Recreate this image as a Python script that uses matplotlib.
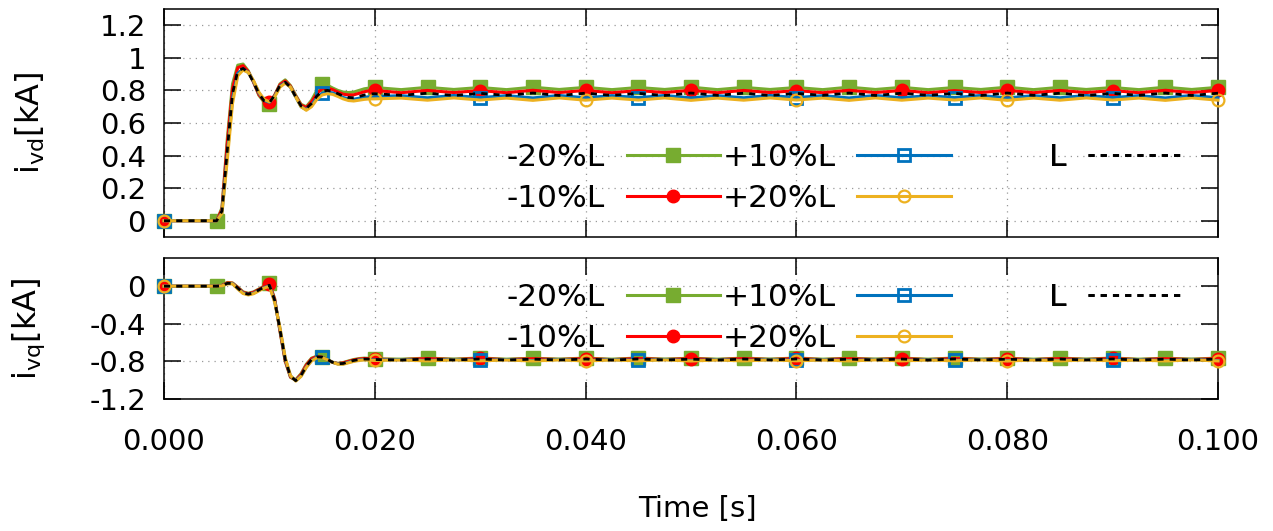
import numpy as np
import matplotlib
matplotlib.use("Agg")
import matplotlib.pyplot as plt

plt.rcParams['font.family'] = ['DejaVu Sans']
plt.rcParams['mathtext.fontset'] = 'dejavusans'

# ---------------- data ----------------
# sample times [s]: 0, then 0.005..0.020 every 0.5 ms, then 0.0225..0.100 every 2.5 ms
TIME = np.round(np.concatenate([[0.0],
                                np.arange(0.005, 0.02001, 0.0005),
                                np.arange(0.0225, 0.10001, 0.0025)]), 5)

LABELS = ['-20%L', '-10%L', '+10%L', '+20%L', 'L']

# i_vd [kA]  (transient part 0 .. 0.020 s, 32 samples)
vd_m20_tr = [0, 0, 0.08, 0.50, 0.84, 0.955, 0.962, 0.92, 0.85, 0.77, 0.728, 0.718, 0.77, 0.84, 0.865,
             0.83, 0.77, 0.715, 0.70, 0.74, 0.80, 0.838, 0.832, 0.815, 0.80, 0.79, 0.787, 0.79, 0.80,
             0.81, 0.815, 0.818]
vd_m10_tr = [0, 0, 0.07, 0.47, 0.81, 0.94, 0.952, 0.915, 0.85, 0.775, 0.735, 0.728, 0.77, 0.835, 0.858,
             0.825, 0.765, 0.71, 0.695, 0.73, 0.78, 0.81, 0.815, 0.805, 0.79, 0.777, 0.772, 0.773, 0.782,
             0.792, 0.798, 0.80]
vd_p10_tr = [0, 0, 0.05, 0.40, 0.75, 0.905, 0.932, 0.91, 0.855, 0.785, 0.74, 0.727, 0.765, 0.825, 0.848,
             0.82, 0.76, 0.70, 0.682, 0.71, 0.755, 0.782, 0.79, 0.785, 0.772, 0.757, 0.748, 0.746, 0.752,
             0.758, 0.762, 0.762]
vd_p20_tr = [0, 0, 0.045, 0.37, 0.72, 0.89, 0.925, 0.91, 0.86, 0.79, 0.745, 0.73, 0.76, 0.82, 0.845,
             0.82, 0.76, 0.70, 0.678, 0.70, 0.745, 0.772, 0.78, 0.776, 0.763, 0.748, 0.738, 0.735, 0.74,
             0.745, 0.748, 0.748]
vd_L_tr = [0, 0, 0.06, 0.43, 0.78, 0.92, 0.935, 0.91, 0.85, 0.78, 0.735, 0.725, 0.77, 0.83, 0.85,
           0.82, 0.76, 0.705, 0.69, 0.72, 0.765, 0.795, 0.80, 0.795, 0.78, 0.765, 0.757, 0.755, 0.763,
           0.772, 0.778, 0.78]

# i_vd [kA]  (steady part 0.0225 .. 0.100 s, 32 samples)
vd_m20_ss = [0.805, 0.819, 0.806, 0.818, 0.805, 0.820, 0.806, 0.819, 0.805, 0.818, 0.806, 0.820, 0.805,
             0.819, 0.806, 0.818, 0.805, 0.820, 0.806, 0.819, 0.805, 0.818, 0.806, 0.820, 0.805, 0.819,
             0.806, 0.818, 0.805, 0.820, 0.806, 0.819]
vd_m10_ss = [0.786, 0.800, 0.787, 0.799, 0.786, 0.801, 0.787, 0.800, 0.786, 0.799, 0.787, 0.801, 0.786,
             0.800, 0.787, 0.799, 0.786, 0.801, 0.787, 0.800, 0.786, 0.799, 0.787, 0.801, 0.786, 0.800,
             0.787, 0.799, 0.786, 0.801, 0.787, 0.800]
vd_p10_ss = [0.768, 0.755, 0.769, 0.756, 0.768, 0.754, 0.769, 0.755, 0.768, 0.756, 0.769, 0.754, 0.768,
             0.755, 0.769, 0.756, 0.768, 0.754, 0.769, 0.755, 0.768, 0.756, 0.769, 0.754, 0.768, 0.755,
             0.769, 0.756, 0.768, 0.754, 0.769, 0.755]
vd_p20_ss = [0.753, 0.740, 0.754, 0.741, 0.753, 0.739, 0.754, 0.740, 0.753, 0.741, 0.754, 0.739, 0.753,
             0.740, 0.754, 0.741, 0.753, 0.739, 0.754, 0.740, 0.753, 0.741, 0.754, 0.739, 0.753, 0.740,
             0.754, 0.741, 0.753, 0.739, 0.754, 0.740]
vd_L_ss = [0.770, 0.783, 0.769, 0.782, 0.770, 0.784, 0.769, 0.783, 0.770, 0.782, 0.769, 0.784, 0.770,
           0.783, 0.769, 0.782, 0.770, 0.784, 0.769, 0.783, 0.770, 0.782, 0.769, 0.784, 0.770, 0.783,
           0.769, 0.782, 0.770, 0.784, 0.769, 0.783]

# i_vq [kA]  (transient part 0 .. 0.020 s)
vq_m20_tr = [0, 0, 0.01, 0.04, 0.035, -0.01, -0.06, -0.075, -0.06, -0.03, 0.0, 0.03, -0.13, -0.48,
             -0.80, -0.97, -0.995, -0.93, -0.83, -0.765, -0.745, -0.755, -0.785, -0.81, -0.82, -0.812,
             -0.795, -0.78, -0.77, -0.765, -0.768, -0.772]
vq_m10_tr = [0, 0, 0.008, 0.035, 0.032, -0.015, -0.065, -0.08, -0.065, -0.035, -0.005, 0.02, -0.14,
             -0.47, -0.79, -0.965, -1.0, -0.94, -0.84, -0.772, -0.748, -0.755, -0.782, -0.81, -0.823,
             -0.816, -0.80, -0.785, -0.775, -0.77, -0.772, -0.776]
vq_p10_tr = [0, 0, 0.004, 0.028, 0.028, -0.025, -0.072, -0.088, -0.075, -0.045, -0.015, 0.005, -0.16,
             -0.45, -0.77, -0.955, -1.005, -0.955, -0.86, -0.79, -0.757, -0.757, -0.78, -0.81, -0.827,
             -0.826, -0.81, -0.795, -0.785, -0.78, -0.782, -0.785]
vq_p20_tr = [0, 0, 0.003, 0.025, 0.025, -0.03, -0.078, -0.093, -0.08, -0.05, -0.02, 0.0, -0.17, -0.44,
             -0.76, -0.95, -1.01, -0.96, -0.865, -0.795, -0.762, -0.76, -0.782, -0.81, -0.83, -0.83,
             -0.815, -0.80, -0.79, -0.785, -0.787, -0.79]
vq_L_tr = [0, 0, 0.005, 0.03, 0.03, -0.02, -0.07, -0.085, -0.07, -0.04, -0.01, 0.01, -0.15, -0.46,
           -0.78, -0.96, -1.005, -0.95, -0.85, -0.78, -0.752, -0.755, -0.78, -0.81, -0.825, -0.822,
           -0.805, -0.79, -0.78, -0.775, -0.776, -0.78]

# i_vq [kA]  (steady part 0.0225 .. 0.100 s)
vq_m20_ss = [-0.776, -0.765, -0.775, -0.764, -0.776, -0.766, -0.775, -0.765, -0.776, -0.764, -0.775,
             -0.766, -0.776, -0.765, -0.775, -0.764, -0.776, -0.766, -0.775, -0.765, -0.776, -0.764,
             -0.775, -0.766, -0.776, -0.765, -0.775, -0.764, -0.776, -0.766, -0.775, -0.765]
vq_m10_ss = [-0.781, -0.770, -0.780, -0.769, -0.781, -0.771, -0.780, -0.770, -0.781, -0.769, -0.780,
             -0.771, -0.781, -0.770, -0.780, -0.769, -0.781, -0.771, -0.780, -0.770, -0.781, -0.769,
             -0.780, -0.771, -0.781, -0.770, -0.780, -0.769, -0.781, -0.771, -0.780, -0.770]
vq_p10_ss = [-0.780, -0.791, -0.779, -0.790, -0.780, -0.792, -0.779, -0.791, -0.780, -0.790, -0.779,
             -0.792, -0.780, -0.791, -0.779, -0.790, -0.780, -0.792, -0.779, -0.791, -0.780, -0.790,
             -0.779, -0.792, -0.780, -0.791, -0.779, -0.790, -0.780, -0.792, -0.779, -0.791]
vq_p20_ss = [-0.785, -0.795, -0.784, -0.794, -0.785, -0.796, -0.784, -0.795, -0.785, -0.794, -0.784,
             -0.796, -0.785, -0.795, -0.784, -0.794, -0.785, -0.796, -0.784, -0.795, -0.785, -0.794,
             -0.784, -0.796, -0.785, -0.795, -0.784, -0.794, -0.785, -0.796, -0.784, -0.795]
vq_L_ss = [-0.786, -0.775, -0.785, -0.774, -0.786, -0.776, -0.785, -0.775, -0.786, -0.774, -0.785,
           -0.776, -0.786, -0.775, -0.785, -0.774, -0.786, -0.776, -0.785, -0.775, -0.786, -0.774,
           -0.785, -0.776, -0.786, -0.775, -0.785, -0.774, -0.786, -0.776, -0.785, -0.775]

VD = [vd_m20_tr + vd_m20_ss, vd_m10_tr + vd_m10_ss, vd_p10_tr + vd_p10_ss,
      vd_p20_tr + vd_p20_ss, vd_L_tr + vd_L_ss]
VQ = [vq_m20_tr + vq_m20_ss, vq_m10_tr + vq_m10_ss, vq_p10_tr + vq_p10_ss,
      vq_p20_tr + vq_p20_ss, vq_L_tr + vq_L_ss]

XTICKS = [0.0, 0.02, 0.04, 0.06, 0.08, 0.10]
VD_TICKS = [0, 0.2, 0.4, 0.6, 0.8, 1.0, 1.2]
VD_TICKLABELS = ['0', '0.2', '0.4', '0.6', '0.8', '1', '1.2']
VQ_TICKS = [0, -0.4, -0.8, -1.2]
VQ_TICKLABELS = ['0', '-0.4', '-0.8', '-1.2']

# ---------------- styles ----------------
COLORS = ['#77AC30', '#FF0000', '#0072BD', '#EDB120', '#000000']
MARK_STEP = [0.005, 0.01, 0.015, 0.02, None]
STYLES = [
    dict(marker='s', ms=9.5, mfc='#77AC30', mec='#77AC30', mew=1.0),
    dict(marker='o', ms=9.0, mfc='#FF0000', mec='#FF0000', mew=1.0),
    dict(marker='s', ms=8.5, mfc='none', mec='#0072BD', mew=2.0),
    dict(marker='o', ms=8.5, mfc='none', mec='#EDB120', mew=1.6),
    dict(marker=None),
]

W, H = 1273, 531
fig = plt.figure(figsize=(W / 100, H / 100), dpi=100)
ax1 = fig.add_axes([164 / W, 1 - 237 / H, 1054 / W, 228 / H])
ax2 = fig.add_axes([164 / W, 1 - 399 / H, 1054 / W, 141 / H])

TICK_FS = 21
LEG_FS = 22.5
YLAB_FS = 23


def markidx(step):
    return [i for i, t in enumerate(TIME) if abs(t / step - round(t / step)) < 1e-6]


def draw(ax, data):
    handles = []
    for k in range(5):
        if MARK_STEP[k] is None:
            h, = ax.plot(TIME, data[k], color=COLORS[k], lw=2.0, ls=(0, (2.2, 2.2)),
                         label=LABELS[k], zorder=3 + k)
        else:
            h, = ax.plot(TIME, data[k], color=COLORS[k], lw=2.2, label=LABELS[k],
                         markevery=markidx(MARK_STEP[k]), clip_on=False, zorder=3 + k,
                         **STYLES[k])
        handles.append(h)
    ax.set_xlim(0, 0.1)
    ax.set_xticks(XTICKS)
    ax.grid(True, color='0.6', lw=0.9, ls=(0, (1, 4)))
    ax.tick_params(direction='in', length=12, width=1.1, top=True, right=True,
                   labelsize=TICK_FS, pad=13)
    for s in ax.spines.values():
        s.set_linewidth(1.1)
    return handles


def legends(ax, handles, row_top):
    cols = [([handles[0], handles[1]], 507),
            ([handles[2], handles[3]], 723),
            ([handles[4]], 1049)]
    for hs, x in cols:
        leg = ax.legend(handles=hs, labels=[h.get_label() for h in hs],
                        loc='upper left', bbox_to_anchor=(x / W, 1 - row_top / H),
                        bbox_transform=fig.transFigure, frameon=False, markerfirst=False,
                        fontsize=LEG_FS, borderpad=0, borderaxespad=0, handlelength=3.0,
                        handletextpad=0.68, labelspacing=0.39, numpoints=1)
        ax.add_artist(leg)


h1 = draw(ax1, VD)
ax1.set_ylim(-0.1, 1.3)
ax1.set_yticks(VD_TICKS)
ax1.set_yticklabels(VD_TICKLABELS)
ax1.tick_params(labelbottom=False)
ax1.set_ylabel(r'i$_{\mathregular{vd}}$[kA]', fontsize=YLAB_FS)
ax1.yaxis.set_label_coords(-0.111, 0.5)
legends(ax1, h1, 143)

h2 = draw(ax2, VQ)
ax2.set_ylim(-1.2, 0.3)
ax2.set_yticks(VQ_TICKS)
ax2.set_yticklabels(VQ_TICKLABELS)
ax2.set_xticklabels(['%.3f' % v for v in XTICKS])
ax2.tick_params(axis='x', pad=21)
ax2.set_ylabel(r'i$_{\mathregular{vq}}$[kA]', fontsize=YLAB_FS)
ax2.yaxis.set_label_coords(-0.111, 0.5)
ax2.set_xlabel('Time [s]', fontsize=TICK_FS)
ax2.xaxis.set_label_coords(0.506, -0.68)
legends(ax2, h2, 283)

fig.savefig('out.png', dpi=100)
